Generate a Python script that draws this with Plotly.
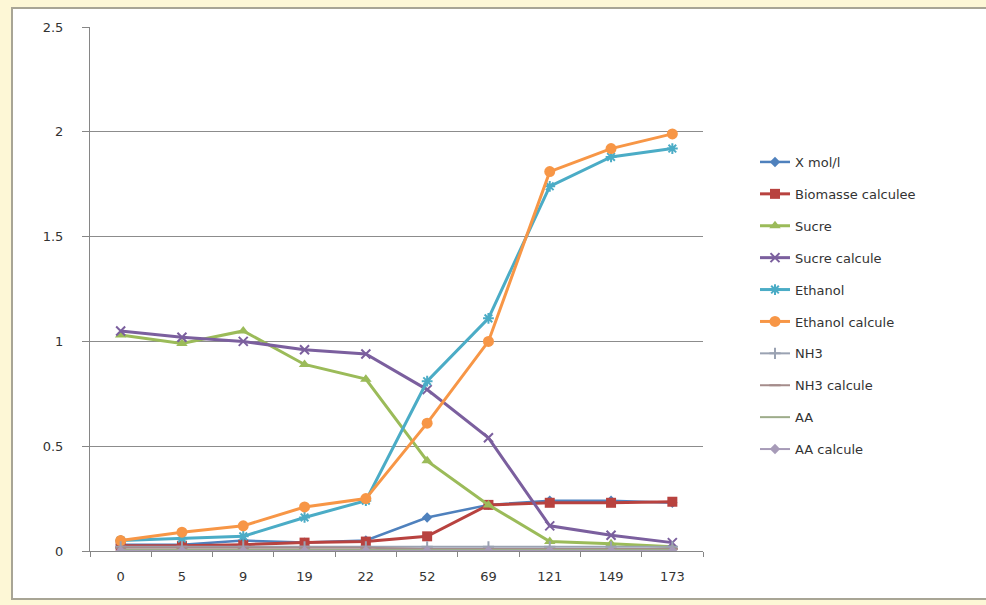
import plotly.graph_objects as go

temps = ["0", "5", "9", "19", "22", "52", "69", "121", "149", "173"]

x_mol = [0.03, 0.03, 0.05, 0.04, 0.05, 0.16, 0.22, 0.24, 0.24, 0.23]
biomasse_calc = [0.025, 0.025, 0.03, 0.04, 0.045, 0.07, 0.22, 0.23, 0.23, 0.235]
sucre = [1.03, 0.99, 1.05, 0.89, 0.82, 0.43, 0.22, 0.045, 0.035, 0.02]
sucre_calc = [1.05, 1.02, 1.00, 0.96, 0.94, 0.77, 0.54, 0.12, 0.075, 0.04]
ethanol = [0.05, 0.06, 0.07, 0.16, 0.24, 0.81, 1.11, 1.74, 1.88, 1.92]
ethanol_calc = [0.05, 0.09, 0.12, 0.21, 0.25, 0.61, 1.00, 1.81, 1.92, 1.99]
nh3 = [0.02, 0.02, 0.02, 0.02, 0.02, 0.02, 0.02, 0.02, 0.02, 0.02]
nh3_calc = [0.015, 0.015, 0.015, 0.015, 0.015, 0.01, 0.01, 0.01, 0.01, 0.01]
aa = [0.005, 0.005, 0.005, 0.005, 0.005, 0.005, 0.005, 0.005, 0.005, 0.005]
aa_calc = [0.0, 0.0, 0.0, 0.0, 0.0, 0.0, 0.0, 0.0, 0.0, 0.0]

series = [
    ("X mol/l", x_mol, "#4F81BD", "diamond", 8, 2.5),
    ("Biomasse calculee", biomasse_calc, "#B8423F", "square", 10, 3),
    ("Sucre", sucre, "#9BBB59", "triangle-up", 10, 3),
    ("Sucre calcule", sucre_calc, "#7B5F9E", "x-thin", 9, 3),
    ("Ethanol", ethanol, "#4BACC6", "asterisk", 9, 3),
    ("Ethanol calcule", ethanol_calc, "#F79646", "circle", 11, 3),
    ("NH3", nh3, "#9AA2B2", "cross-thin", 8, 2),
    ("NH3 calcule", nh3_calc, "#A58C8B", "line-ew", 8, 2),
    ("AA", aa, "#9DAC8A", None, 0, 2),
    ("AA calcule", aa_calc, "#A79BB8", "diamond", 8, 2),
]

fig = go.Figure()
for i, (name, vals, col, sym, sz, lw) in enumerate(series):
    thin = sym in ("x-thin", "asterisk", "cross-thin", "line-ew")
    if sym is None:
        mode = "lines"
        marker = dict()
    else:
        mode = "lines+markers"
        marker = dict(symbol=sym, size=sz, color=col,
                      line=dict(color=col, width=2 if thin else 0))
    fig.add_trace(go.Scatter(
        x=temps, y=vals, name=name, mode=mode,
        line=dict(color=col, width=lw), marker=marker,
        legendgroup="g%d" % i,
    ))

W, H = 986, 605
L, R, T, B = 90, 283, 27, 54
pw, ph = W - L - R, H - T - B

def px_x(p):
    return (p - L) / pw

def px_y(p):
    return (H - B - p) / ph

fig.add_shape(type="rect", xref="paper", yref="paper",
              x0=px_x(12), x1=px_x(990), y0=px_y(599), y1=px_y(8),
              fillcolor="white", line=dict(color="#A8A595", width=2),
              layer="below")

fig.update_layout(
    width=W, height=H,
    margin=dict(l=L, r=R, t=T, b=B),
    paper_bgcolor="#FDF7D6",
    plot_bgcolor="white",
    font=dict(family="DejaVu Sans", size=13, color="#333333"),
    showlegend=True,
    legend=dict(
        x=px_x(755), y=px_y(147), xanchor="left", yanchor="top",
        traceorder="grouped", tracegroupgap=12,
        font=dict(family="DejaVu Sans", size=13, color="#333333"),
        bgcolor="rgba(0,0,0,0)",
    ),
    xaxis=dict(
        type="category", range=[-0.5, 9.5],
        showgrid=False, showline=True, linecolor="#868686", linewidth=1,
        ticks="outside", ticklen=5, tickcolor="#868686", tickson="boundaries",
        tickfont=dict(size=13, color="#333333"),
        ticklabelstandoff=13,
    ),
    yaxis=dict(
        range=[0, 2.5], tickvals=[0, 0.5, 1, 1.5, 2, 2.5],
        ticktext=["0", "0.5", "1", "1.5", "2", "2.5"],
        showgrid=True, gridcolor="#8C8C8C", gridwidth=1,
        showline=True, linecolor="#868686", linewidth=1,
        ticks="outside", ticklen=7, tickcolor="#868686",
        zeroline=False,
        tickfont=dict(size=13, color="#333333"),
        ticklabelstandoff=16,
    ),
)

fig.write_html("out.html", config={"displayModeBar": False},
               post_script="document.body.style.margin='0px';")
